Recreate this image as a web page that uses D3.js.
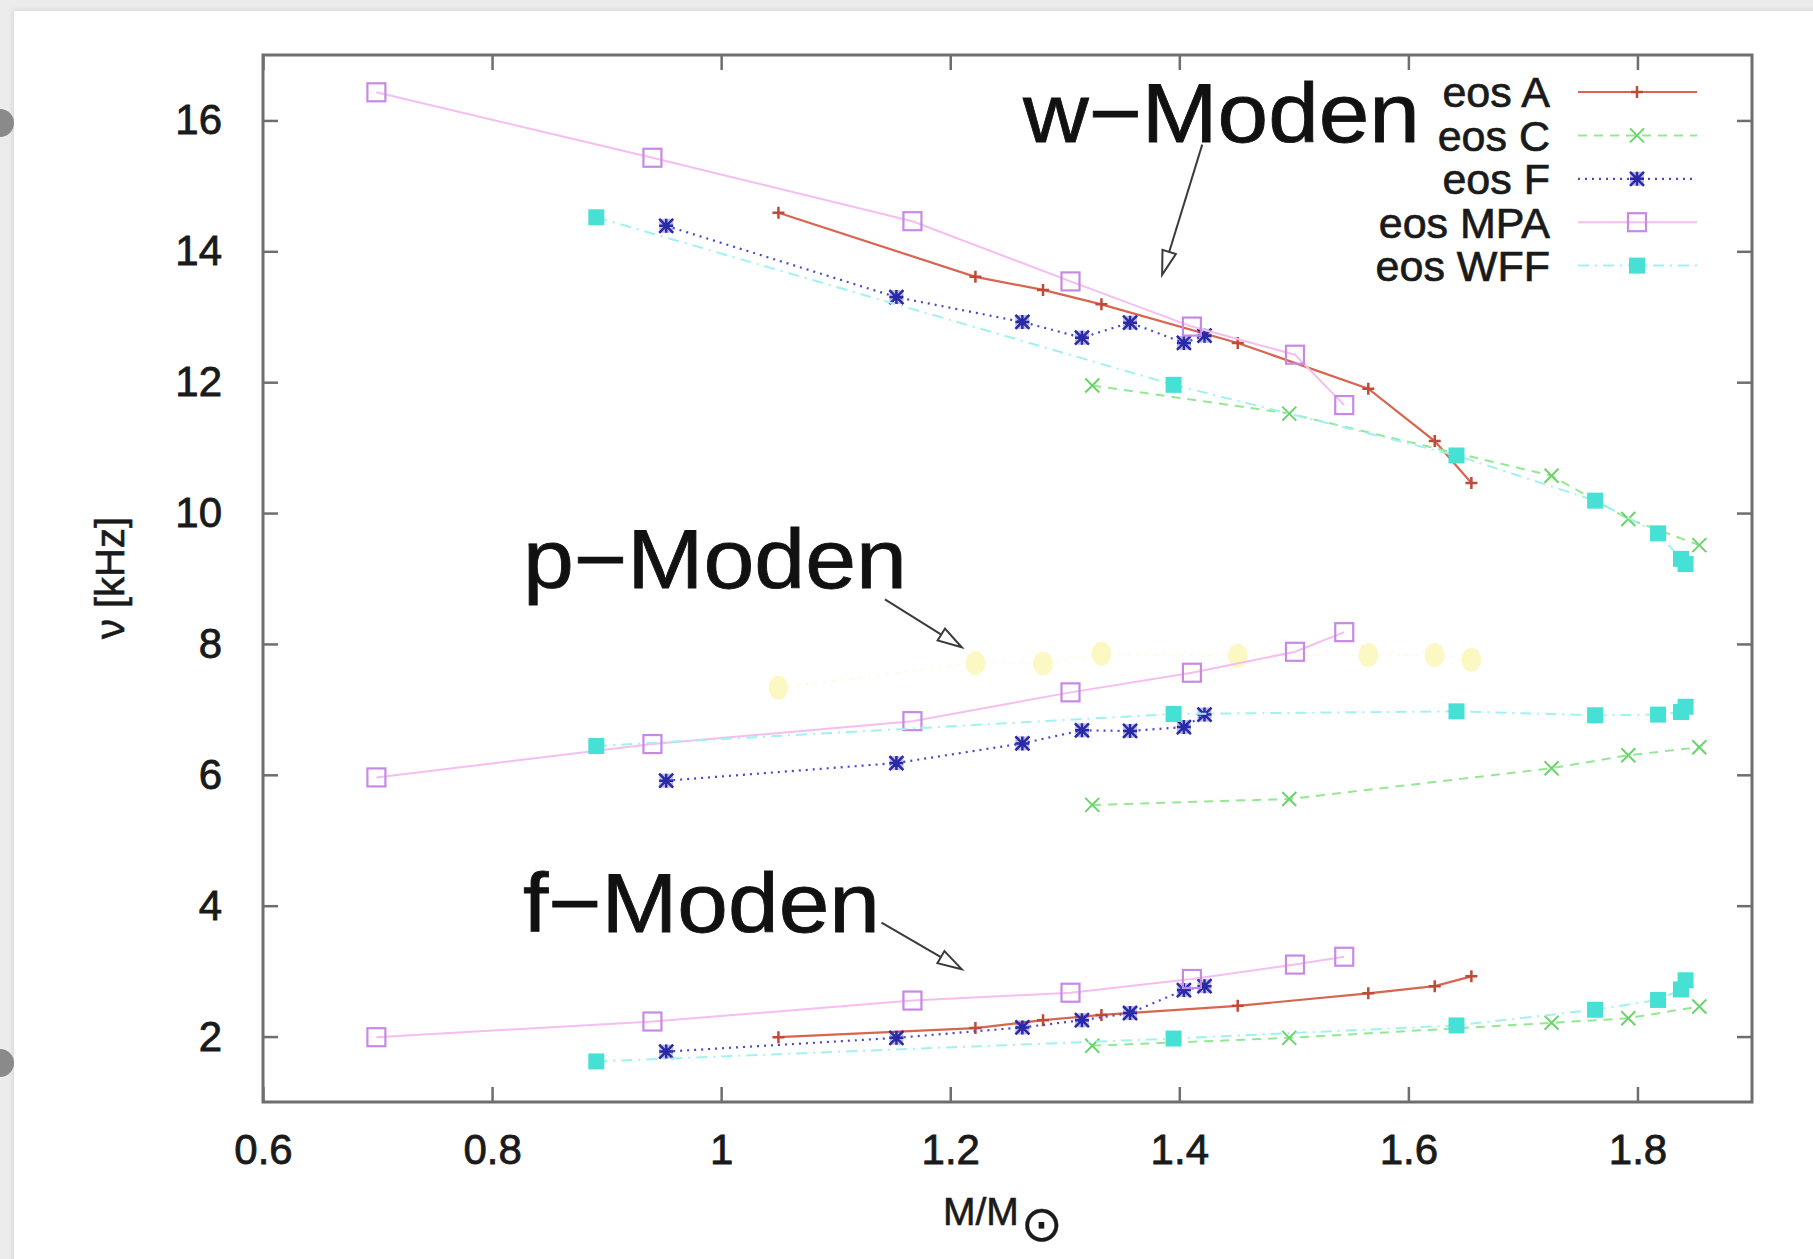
<!DOCTYPE html>
<html>
<head>
<meta charset="utf-8">
<script src="https://cdn.jsdelivr.net/npm/d3@7"></script>
<style>
  html, body { margin: 0; padding: 0; background: #ececec; }
  #chart { width: 1813px; height: 1259px; }
  svg { display: block; font-family: "Liberation Sans", Arial, Helvetica, sans-serif; }
</style>
</head>
<body>
<div id="chart"></div>
<script>
// masses (M/Msun) and mode frequencies (kHz) per equation of state
const eosNames = ["eos A", "eos C", "eos F", "eos MPA", "eos WFF"];

const massA = [1.050, 1.222, 1.281, 1.332, 1.451, 1.565, 1.623, 1.655];
const wA    = [14.59, 13.61, 13.41, 13.19, 12.60, 11.90, 11.10, 10.46];
const pA    = [7.33, 7.71, 7.70, 7.85, 7.82, 7.83, 7.83, 7.76];
const fA    = [1.99, 2.13, 2.25, 2.33, 2.47, 2.66, 2.77, 2.92];

const massC = [1.324, 1.496, 1.725, 1.792, 1.854];
const wC    = [11.95, 11.52, 10.57, 9.91, 9.51];
const pC    = [5.54, 5.63, 6.10, 6.30, 6.42];
const fC    = [1.86, 1.98, 2.21, 2.28, 2.46];

const massF = [0.952, 1.153, 1.263, 1.315, 1.357, 1.404, 1.422];
const wF    = [14.39, 13.30, 12.92, 12.68, 12.91, 12.60, 12.71];
const pF    = [5.91, 6.18, 6.48, 6.68, 6.67, 6.73, 6.92];
const fF    = [1.77, 1.98, 2.14, 2.25, 2.36, 2.71, 2.77];

const massMPA = [0.699, 0.940, 1.167, 1.305, 1.411, 1.501, 1.544];
const wMPA    = [16.43, 15.43, 14.46, 13.54, 12.85, 12.42, 11.65];
const pMPA    = [5.96, 6.47, 6.82, 7.26, 7.56, 7.88, 8.18];
const fMPA    = [1.99, 2.23, 2.55, 2.67, 2.88, 3.10, 3.22];

const massWFF = [0.891, 1.395, 1.642, 1.763, 1.818, 1.838, 1.842];
const wWFF    = [14.52, 11.96, 10.88, 10.19, 9.69, 9.30, 9.22];
const pWFF    = [6.44, 6.93, 6.97, 6.91, 6.92, 6.96, 7.04];
const fWFF    = [1.62, 1.97, 2.17, 2.41, 2.56, 2.72, 2.86];

const xTicks = [0.6, 0.8, 1, 1.2, 1.4, 1.6, 1.8];
const yTicks = [2, 4, 6, 8, 10, 12, 14, 16];

// mode labels (text position = start/baseline) and arrows, in data units
const modeLabels = ["w\u2212Moden", "p\u2212Moden", "f\u2212Moden"];
const labelX = [1.2635, 0.827, 0.827];
const labelY = [15.67, 8.86, 3.60];
const arrowX0 = [1.420, 1.143, 1.140], arrowY0 = [15.63, 8.68, 3.74];
const arrowX1 = [1.385, 1.210, 1.210], arrowY1 = [13.64, 7.95, 3.03];

const W = 1813, H = 1259;
const svg = d3.select("#chart").append("svg").attr("width", W).attr("height", H);

// page card + binder dots
svg.append("rect").attr("x", 0).attr("y", 0).attr("width", W).attr("height", H).attr("fill", "#ececec");
svg.append("rect").attr("x", 14).attr("y", 11).attr("width", W).attr("height", H).attr("fill", "#fff")
  .style("filter", "drop-shadow(0 0 3px rgba(0,0,0,0.12))");
[123, 1063].forEach(cy => svg.append("circle").attr("cx", 0).attr("cy", cy).attr("r", 14).attr("fill", "#8a8a8a"));

const x = d3.scaleLinear().domain([0.6, 1.9]).range([263, 1752]);
const y = d3.scaleLinear().domain([1, 17]).range([1102, 55]);

const axisColor = "#6e6e6e";
function styleAxis(g, labels) {
  g.select(".domain").remove();
  g.selectAll(".tick line").attr("stroke", axisColor).attr("stroke-width", 2.5);
  g.selectAll(".tick text").attr("fill", "#1a1a1a").attr("stroke", "#1a1a1a").attr("stroke-width", 0.8)
    .style("font-size", "42px");
  if (!labels) g.selectAll(".tick text").remove();
}
svg.append("g").attr("transform", `translate(0,${y(1)})`)
  .call(d3.axisBottom(x).tickValues(xTicks).tickFormat(d3.format("~g")).tickSize(-15).tickPadding(32))
  .call(g => styleAxis(g, true));
svg.append("g").attr("transform", `translate(0,${y(17)})`)
  .call(d3.axisTop(x).tickValues(xTicks).tickSize(-15))
  .call(g => styleAxis(g, false));
svg.append("g").attr("transform", `translate(${x(0.6)},0)`)
  .call(d3.axisLeft(y).tickValues(yTicks).tickSize(-15).tickPadding(41))
  .call(g => styleAxis(g, true));
svg.append("g").attr("transform", `translate(${x(1.9)},0)`)
  .call(d3.axisRight(y).tickValues(yTicks).tickSize(-15))
  .call(g => styleAxis(g, false));

svg.append("rect")
  .attr("x", x(0.6)).attr("y", y(17)).attr("width", x(1.9) - x(0.6)).attr("height", y(1) - y(17))
  .attr("fill", "none").attr("stroke", axisColor).attr("stroke-width", 3);

// axis titles
svg.append("text").attr("transform", `translate(124,578) rotate(-90)`)
  .attr("text-anchor", "middle").attr("fill", "#1a1a1a").attr("stroke", "#1a1a1a").attr("stroke-width", 0.6)
  .style("font-size", "40px").text("\u03bd [kHz]");
const xt = svg.append("text").attr("x", 943).attr("y", 1225).attr("fill", "#1a1a1a")
  .attr("stroke", "#1a1a1a").attr("stroke-width", 0.6).style("font-size", "39px");
xt.append("tspan").text("M/M");
xt.append("tspan").attr("dx", 2).attr("dy", 16).attr("stroke-width", 0.3)
  .style("font-size", "50px").style("font-family", "DejaVu Sans").text("\u2299");

// marker drawers
function plusMark(g, px, py, s, col) {
  g.append("path").attr("d", `M${px - s},${py}H${px + s}M${px},${py - s}V${py + s}`)
    .attr("stroke", col).attr("stroke-width", 2.5).attr("fill", "none");
}
function crossMark(g, px, py, s, col) {
  g.append("path").attr("d", `M${px - s},${py - s}L${px + s},${py + s}M${px - s},${py + s}L${px + s},${py - s}`)
    .attr("stroke", col).attr("stroke-width", 2).attr("fill", "none");
}
function starMark(g, px, py, s, col) {
  g.append("rect").attr("x", px - s).attr("y", py - s).attr("width", 2 * s).attr("height", 2 * s)
    .attr("fill", col).attr("opacity", 0.3);
  g.append("path").attr("d", `M${px - s},${py}H${px + s}M${px},${py - s}V${py + s}M${px - s},${py - s}L${px + s},${py + s}M${px - s},${py + s}L${px + s},${py - s}`)
    .attr("stroke", col).attr("stroke-width", 2.5).attr("fill", "none");
}
function openSquare(g, px, py, s, col) {
  g.append("rect").attr("x", px - s).attr("y", py - s).attr("width", 2 * s).attr("height", 2 * s)
    .attr("fill", "none").attr("stroke", col).attr("stroke-width", 2.2);
}
function filledSquare(g, px, py, s, col) {
  g.append("rect").attr("x", px - s).attr("y", py - s).attr("width", 2 * s).attr("height", 2 * s)
    .attr("fill", col);
}
function dotMark(g, px, py, s, col) {
  g.append("ellipse").attr("cx", px).attr("cy", py).attr("rx", s).attr("ry", s * 1.2).attr("fill", col);
}

const styles = {
  "eos A":   { line: "#d8654f", dash: null,         width: 2.2, mark: plusMark,     size: 6, mcol: "#c04a38" },
  "eos C":   { line: "#94e894", dash: "9,7",        width: 2,   mark: crossMark,    size: 7, mcol: "#6ad46a" },
  "eos F":   { line: "#4848c8", dash: "2,5",        width: 2.2, mark: starMark,     size: 7, mcol: "#2a2aa8" },
  "eos MPA": { line: "#f5bdf0", dash: null,         width: 2,   mark: openSquare,   size: 9, mcol: "#c78ae4" },
  "eos WFF": { line: "#a0f2f0", dash: "11,6,2,6",   width: 2,   mark: filledSquare, size: 8, mcol: "#46e0d4" },
  "yellow":  { line: "#fffbe0", dash: "3,6",        width: 2,   mark: dotMark,      size: 10, mcol: "#fcf8c4" }
};

const series = [
  { st: "eos A",   m: massA,   v: [wA, fA] },
  { st: "yellow",  m: massA,   v: [pA] },
  { st: "eos C",   m: massC,   v: [wC, pC, fC] },
  { st: "eos F",   m: massF,   v: [wF, pF, fF] },
  { st: "eos MPA", m: massMPA, v: [wMPA, pMPA, fMPA] },
  { st: "eos WFF", m: massWFF, v: [wWFF, pWFF, fWFF] }
];

const line = d3.line().x(d => x(d[0])).y(d => y(d[1]));
const plot = svg.append("g");
series.forEach(s => {
  const st = styles[s.st];
  s.v.forEach(vals => {
    const pts = s.m.map((m, i) => [m, vals[i]]);
    plot.append("path").attr("d", line(pts)).attr("fill", "none")
      .attr("stroke", st.line).attr("stroke-width", st.width)
      .attr("stroke-dasharray", st.dash);
    pts.forEach(p => st.mark(plot, x(p[0]), y(p[1]), st.size, st.mcol));
  });
});

// legend
const legTop = 92, legStep = 43.4;
eosNames.forEach((n, i) => {
  const st = styles[n];
  const cy = legTop + i * legStep;
  svg.append("text").attr("x", 1550).attr("y", cy).attr("dy", "0.36em").attr("text-anchor", "end")
    .attr("fill", "#1a1a1a").attr("stroke", "#1a1a1a").attr("stroke-width", 0.7)
    .style("font-size", "43px").text(n);
  svg.append("line").attr("x1", 1578).attr("x2", 1697).attr("y1", cy).attr("y2", cy)
    .attr("stroke", st.line).attr("stroke-width", st.width).attr("stroke-dasharray", st.dash);
  st.mark(svg, 1637, cy, st.size, st.mcol);
});

// mode labels and arrows
const labelWidth = [397, 384, 357];
modeLabels.forEach((t, i) => {
  svg.append("text").attr("x", x(labelX[i])).attr("y", y(labelY[i]))
    .attr("fill", "#111").attr("stroke", "#111").attr("stroke-width", 0.8).style("font-size", "84px")
    .attr("textLength", labelWidth[i]).attr("lengthAdjust", "spacingAndGlyphs").text(t);
  const x0 = x(arrowX0[i]), y0 = y(arrowY0[i]), x1 = x(arrowX1[i]), y1 = y(arrowY1[i]);
  const a = Math.atan2(y1 - y0, x1 - x0), L = 24, hw = 7;
  const bx = x1 - L * Math.cos(a), by = y1 - L * Math.sin(a);
  const nx = -Math.sin(a) * hw, ny = Math.cos(a) * hw;
  svg.append("line").attr("x1", x0).attr("y1", y0).attr("x2", bx).attr("y2", by)
    .attr("stroke", "#3a3a3a").attr("stroke-width", 2);
  svg.append("path").attr("d", `M${x1},${y1}L${bx + nx},${by + ny}L${bx - nx},${by - ny}Z`)
    .attr("fill", "#fff").attr("stroke", "#3a3a3a").attr("stroke-width", 2);
});
</script>
</body>
</html>
